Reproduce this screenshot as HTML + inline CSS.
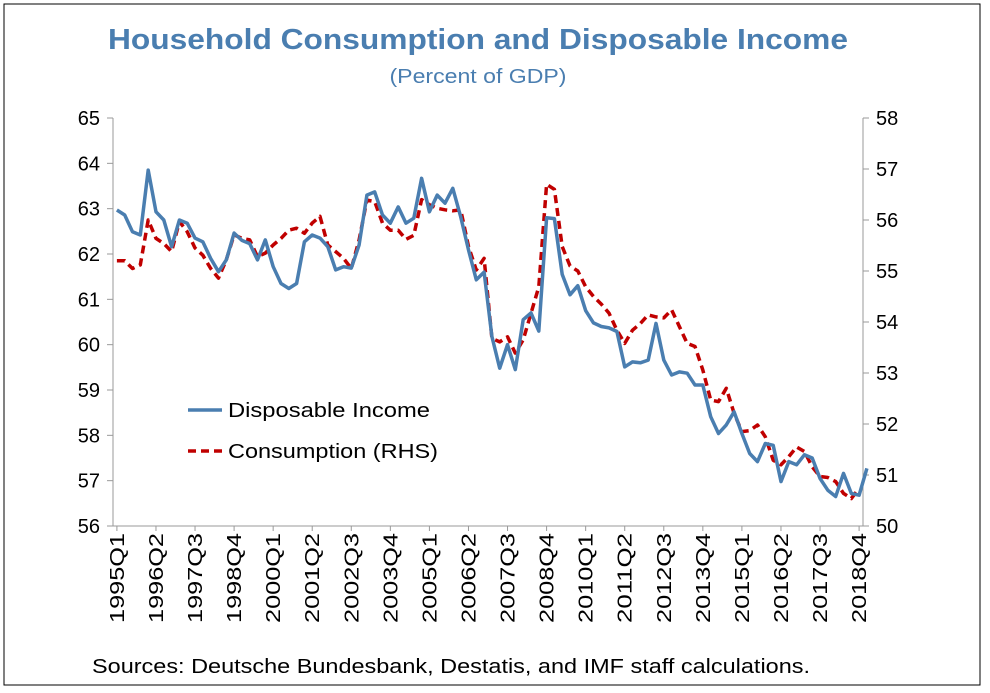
<!DOCTYPE html>
<html><head><meta charset="utf-8"><style>
body{margin:0;background:#fff;}
svg{display:block;font-family:"Liberation Sans",Calibri,sans-serif;}
</style></head><body>
<svg id="chart" width="990" height="693" viewBox="0 0 990 693">
<rect x="4" y="4" width="976" height="681" fill="#fff" stroke="#000" stroke-width="1"/>
<text x="478" y="49" text-anchor="middle" font-size="29" font-weight="bold" fill="#4a7eb0" textLength="740" lengthAdjust="spacingAndGlyphs">Household Consumption and Disposable Income</text>
<text x="478" y="83" text-anchor="middle" font-size="20" fill="#4a7eb0" textLength="177" lengthAdjust="spacingAndGlyphs">(Percent of GDP)</text>
<g id="axes"></g>
<g id="series"></g>
<g>
<line x1="188" y1="410" x2="222" y2="410" stroke="#4a7eb0" stroke-width="3.5"/>
<text x="228" y="417" font-size="20" fill="#000" textLength="202" lengthAdjust="spacingAndGlyphs">Disposable Income</text>
<line x1="188" y1="451" x2="222" y2="451" stroke="#c00000" stroke-width="3.5" stroke-dasharray="8,5"/>
<text x="228" y="458" font-size="20" fill="#000" textLength="210" lengthAdjust="spacingAndGlyphs">Consumption (RHS)</text>
</g>
<text x="92" y="673" font-size="20" fill="#000" textLength="718" lengthAdjust="spacingAndGlyphs">Sources: Deutsche Bundesbank, Destatis, and IMF staff calculations.</text>
</svg>
<script>
const income = [62.97,62.86,62.49,62.42,63.85,62.93,62.75,62.16,62.75,62.68,62.35,62.27,61.9,61.61,61.87,62.46,
62.3,62.23,61.87,62.31,61.72,61.35,61.24,61.35,62.27,62.42,62.35,62.16,61.65,61.72,61.69,62.2,
63.3,63.37,62.86,62.68,63.04,62.68,62.79,63.67,62.93,63.3,63.12,63.45,62.82,62.09,61.43,61.6,
60.18,59.48,60.0,59.45,60.55,60.7,60.3,62.8,62.78,61.55,61.1,61.3,60.75,
60.48,60.4,60.37,60.29,59.51,59.62,59.6,59.66,60.47,59.66,59.33,59.4,59.37,59.11,59.11,58.41,58.04,58.23,58.52,58.04,57.6,57.42,57.82,57.78,56.98,57.42,57.35,57.57,57.5,57.05,56.79,56.65,57.16,56.72,56.68,57.27];
const consumption = [55.2,55.2,55.05,55.12,56.0,55.64,55.54,55.38,55.97,55.77,55.45,55.31,55.05,54.86,55.22,55.71,
55.64,55.61,55.28,55.35,55.51,55.64,55.8,55.84,55.74,55.94,56.07,55.51,55.38,55.25,55.05,55.61,
56.39,56.36,55.94,55.8,55.8,55.62,55.7,56.4,56.3,56.23,56.2,56.18,56.2,55.48,55.02,55.25,
53.68,53.61,53.71,53.39,53.65,54.17,54.69,56.7,56.6,55.48,55.1,55.0,54.69,
54.5,54.35,54.17,53.84,53.58,53.84,53.97,54.14,54.1,54.08,54.24,53.91,53.58,53.52,53.06,52.47,52.44,52.7,52.21,51.85,51.87,51.98,51.75,51.29,51.2,51.36,51.55,51.46,51.16,50.97,50.95,50.87,50.64,50.54,50.74];
const leftTicks = [56,57,58,59,60,61,62,63,64,65];
const rightTicks = [50,51,52,53,54,55,56,57,58];
const years = [];
for (let y = 1995; y <= 2018; y++) for (let q = 1; q <= 4; q++) years.push(y + "Q" + q);

const NS = "http://www.w3.org/2000/svg";
const X0 = 113, X1 = 863, Y0 = 526, Y1 = 118;
const n = years.length;
const xAt = i => X0 + (X1 - X0) * (i + 0.5) / n;
const yL = v => Y0 - (v - 56) / (65 - 56) * (Y0 - Y1);
const yR = v => Y0 - (v - 50) / (58 - 50) * (Y0 - Y1);
function mk(tag, attrs, parent) { const e = document.createElementNS(NS, tag); for (const k in attrs) e.setAttribute(k, attrs[k]); parent.appendChild(e); return e; }
const axes = document.getElementById("axes");
const lAx = mk("line", {x1:X0,y1:Y1,x2:X0,y2:Y0,stroke:"#999","stroke-width":1}, axes);


const rAx = mk("line", {x1:X1,y1:Y1,x2:X1,y2:Y0,stroke:"#999","stroke-width":1}, axes);


const bAx = mk("line", {x1:X0,y1:Y0,x2:X1,y2:Y0,stroke:"#999","stroke-width":1}, axes);


leftTicks.forEach(v => {
  const y = yL(v);
  mk("line", {x1:X0-6,y1:y,x2:X0,y2:y,stroke:"#999"}, axes);
  const t = mk("text", {x:100,y:y+7,"text-anchor":"end","font-size":20}, axes);
  t.textContent = v;
  
  
});
rightTicks.forEach(v => {
  const y = yR(v);
  mk("line", {x1:X1,y1:y,x2:X1+6,y2:y,stroke:"#999"}, axes);
  const t = mk("text", {x:876,y:y+7,"text-anchor":"start","font-size":20}, axes);
  t.textContent = v;
  
  
});
for (let i = 0; i < n; i += 5) {
  const x = xAt(i);
  mk("line", {x1:x,y1:Y0,x2:x,y2:Y0+5,stroke:"#999"}, axes);
  const t = mk("text", {x:0,y:0,"text-anchor":"end","font-size":20,textLength:90,lengthAdjust:"spacingAndGlyphs",transform:`translate(${x+7},${Y0+7}) rotate(-90)`}, axes);
  t.textContent = years[i];
  
  
}
const ser = document.getElementById("series");
const pc = consumption.map((v,i)=>xAt(i).toFixed(1)+","+yR(v).toFixed(1)).join(" ");
const lc = mk("polyline", {points:pc,fill:"none",stroke:"#c00000","stroke-width":3.5,"stroke-dasharray":"8,5","stroke-linejoin":"round"}, ser);


const pi = income.map((v,i)=>xAt(i).toFixed(1)+","+yL(v).toFixed(1)).join(" ");
const li = mk("polyline", {points:pi,fill:"none",stroke:"#4a7eb0","stroke-width":3.5,"stroke-linejoin":"round"}, ser);


</script>
</body></html>
